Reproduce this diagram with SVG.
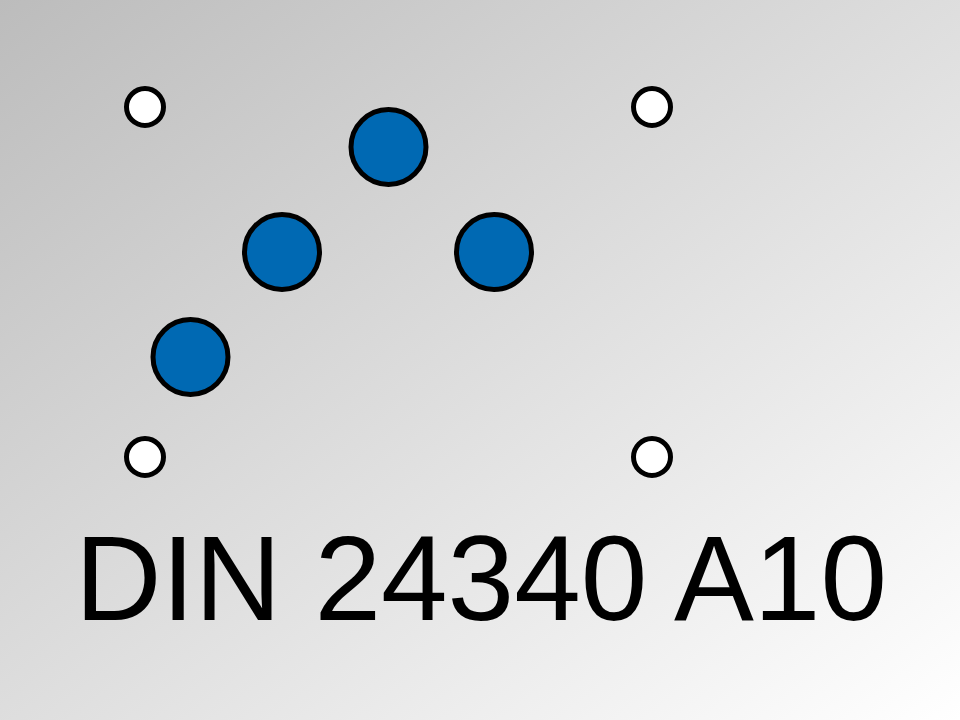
<svg xmlns="http://www.w3.org/2000/svg" width="960" height="720" viewBox="0 0 960 720">
  <defs>
    <linearGradient id="bg" x1="0" y1="0" x2="1" y2="1">
      <stop offset="0" stop-color="#bcbcbc"/>
      <stop offset="1" stop-color="#ffffff"/>
    </linearGradient>
  </defs>
  <style>
    .hole { fill: #ffffff; stroke: #000000; stroke-width: 5; }
    .port { fill: #0069b3; stroke: #000000; stroke-width: 5; }
    .label { font-family: "Liberation Sans", Arial, sans-serif; font-size: 120px; fill: #000000; }
  </style>
  <rect x="0" y="0" width="960" height="720" fill="url(#bg)"/>
  <g id="connectors"></g>
  <g id="hole-tl"><circle class="hole" cx="145" cy="107" r="18.5"/></g>
  <g id="hole-tr"><circle class="hole" cx="652" cy="107" r="18.5"/></g>
  <g id="hole-bl"><circle class="hole" cx="145" cy="457" r="18.5"/></g>
  <g id="hole-br"><circle class="hole" cx="652" cy="457" r="18.5"/></g>
  <g id="port-top"><circle class="port" cx="388.5" cy="147" r="37.5"/></g>
  <g id="port-left"><circle class="port" cx="282" cy="252" r="37.5"/></g>
  <g id="port-right"><circle class="port" cx="494" cy="252" r="37.5"/></g>
  <g id="port-low"><circle class="port" cx="190.5" cy="357" r="37.5"/></g>
  <g id="title"><text class="label" x="75" y="620" textLength="812" lengthAdjust="spacingAndGlyphs">DIN 24340 A10</text></g>
</svg>
